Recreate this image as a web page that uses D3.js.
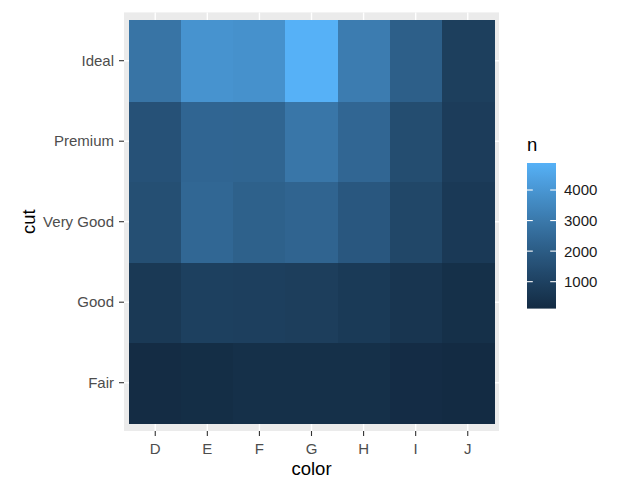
<!DOCTYPE html>
<html>
<head>
<meta charset="utf-8">
<script src="https://cdn.jsdelivr.net/npm/d3@7"></script>
<style>
  body { margin: 0; background: #fff; }
  svg text { font-family: "Liberation Sans", Arial, sans-serif; }
</style>
</head>
<body>
<svg id="chart" width="640" height="496"></svg>
<script>
// data: diamonds, count of cut x color
var colors = ["D", "E", "F", "G", "H", "I", "J"];
var cuts = ["Fair", "Good", "Very Good", "Premium", "Ideal"];
var fair     = [163, 224, 312, 314, 303, 175, 119];
var good     = [662, 933, 909, 871, 702, 522, 307];
var veryGood = [1513, 2400, 2164, 2299, 1824, 1204, 678];
var premium  = [1603, 2337, 2331, 2924, 2360, 1428, 808];
var ideal    = [2834, 3903, 3826, 4884, 3115, 2093, 896];
var legendBreaks = [1000, 2000, 3000, 4000];

var rows = [fair, good, veryGood, premium, ideal];
var cells = [];
cuts.forEach(function(c, i){
	colors.forEach(function(k, j){
		cells.push({cut: c, color: k, n: rows[i][j]});
	});
});

var svg = d3.select("#chart");

// panel bounds
var px0 = 124, px1 = 499, py0 = 12.4, py1 = 431;

var x = d3.scaleBand().domain(colors).range([px0, px1]).paddingInner(0).paddingOuter(0.1);
var y = d3.scaleBand().domain(cuts).range([py1, py0]).paddingInner(0).paddingOuter(0.1);

var nExtent = d3.extent(cells, function(d){ return d.n; });
var fill = d3.scaleLinear().domain(nExtent).range(["#132B43", "#56B1F7"]).interpolate(d3.interpolateLab);

// panel background
svg.append("rect")
	.attr("x", px0).attr("y", py0)
	.attr("width", px1 - px0).attr("height", py1 - py0)
	.attr("fill", "#EBEBEB");

// grid lines
var grid = svg.append("g").attr("class", "grid");
grid.selectAll(".vgrid")
	.data(colors).enter()
	.append("line")
	.attr("x1", function(d){ return x(d) + x.bandwidth()/2; })
	.attr("x2", function(d){ return x(d) + x.bandwidth()/2; })
	.attr("y1", py0).attr("y2", py1)
	.attr("stroke", "#fff").attr("stroke-width", 1.4);
grid.selectAll(".hgrid")
	.data(cuts).enter()
	.append("line")
	.attr("y1", function(d){ return y(d) + y.bandwidth()/2; })
	.attr("y2", function(d){ return y(d) + y.bandwidth()/2; })
	.attr("x1", px0).attr("x2", px1)
	.attr("stroke", "#fff").attr("stroke-width", 1.4);

// tiles
svg.append("g")
	.attr("shape-rendering", "crispEdges")
	.selectAll("rect")
	.data(cells).enter()
	.append("rect")
	.attr("x", function(d){ return x(d.color); })
	.attr("y", function(d){ return y(d.cut); })
	.attr("width", x.bandwidth() + 1)
	.attr("height", y.bandwidth() + 1)
	.attr("fill", function(d){ return fill(d.n); });

// axes
var xAxis = svg.append("g")
	.attr("transform", "translate(0," + py1 + ")")
	.call(d3.axisBottom(x).tickSize(5).tickSizeOuter(0).tickPadding(7));
var yAxis = svg.append("g")
	.attr("transform", "translate(" + px0 + ",0)")
	.call(d3.axisLeft(y).tickSize(5).tickSizeOuter(0).tickPadding(5));

[xAxis, yAxis].forEach(function(a){
	a.select(".domain").remove();
	a.selectAll(".tick line").attr("stroke", "#333333").attr("stroke-width", 1.1);
	a.selectAll(".tick text")
		.attr("fill", "#4D4D4D")
		.style("font-size", "15px")
		.style("font-family", "'Liberation Sans', Arial, sans-serif");
});

// axis titles
svg.append("text")
	.attr("x", (px0 + px1)/2).attr("y", 475)
	.attr("text-anchor", "middle")
	.style("font-size", "18.5px")
	.attr("fill", "#000")
	.text("color");
svg.append("text")
	.attr("transform", "translate(35," + ((py0 + py1)/2) + ") rotate(-90)")
	.attr("text-anchor", "middle")
	.style("font-size", "18.5px")
	.attr("fill", "#000")
	.text("cut");

// legend
var lx = 527, lw = 29;
var ly = d3.scaleLinear().domain(nExtent).range([308.6, 163]);

var defs = svg.append("defs");
var grad = defs.append("linearGradient")
	.attr("id", "fillgrad")
	.attr("x1", 0).attr("y1", 1).attr("x2", 0).attr("y2", 0);
grad.selectAll("stop")
	.data(d3.range(0, 1.0001, 0.05)).enter()
	.append("stop")
	.attr("offset", function(t){ return t; })
	.attr("stop-color", function(t){ return fill(nExtent[0] + t*(nExtent[1]-nExtent[0])); });

svg.append("text")
	.attr("x", lx).attr("y", 151)
	.style("font-size", "18.5px")
	.attr("fill", "#000")
	.text("n");

svg.append("rect")
	.attr("x", lx).attr("y", ly(nExtent[1]))
	.attr("width", lw).attr("height", ly(nExtent[0]) - ly(nExtent[1]))
	.attr("fill", "url(#fillgrad)");

var lticks = svg.append("g").attr("class", "legend-ticks");
legendBreaks.forEach(function(b){
	lticks.append("line")
		.attr("x1", lx).attr("x2", lx + lw/5)
		.attr("y1", ly(b)).attr("y2", ly(b))
		.attr("stroke", "#fff").attr("stroke-width", 1.1);
	lticks.append("line")
		.attr("x1", lx + lw - lw/5).attr("x2", lx + lw)
		.attr("y1", ly(b)).attr("y2", ly(b))
		.attr("stroke", "#fff").attr("stroke-width", 1.1);
	lticks.append("text")
		.attr("x", 564).attr("y", ly(b))
		.attr("dy", "0.36em")
		.style("font-size", "15px")
		.attr("fill", "#1A1A1A")
		.text(b);
});
</script>
</body>
</html>
